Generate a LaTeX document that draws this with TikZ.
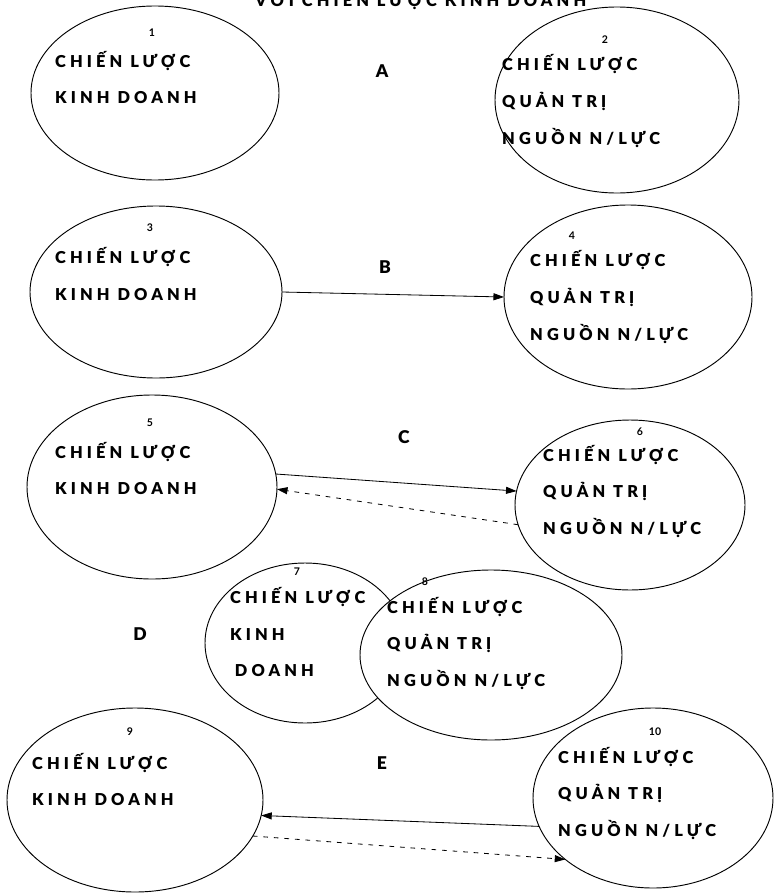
\documentclass[tikz,border=0pt]{standalone}
\usepackage{fontspec}
\setmainfont{Lato}
\newfontfamily\ovalfont[LetterSpace=25]{Lato Black}
\newfontfamily\heavyfont{Lato Black}
\usetikzlibrary{shapes.geometric,arrows.meta}

\begin{document}
\begin{tikzpicture}[x=0.03cm, y=-0.03cm,
        oval/.style 2 args={ellipse, draw, fill=white, line width=0.8pt, inner sep=0pt, outer sep=0pt,
            minimum width=#1*0.03cm, minimum height=#2*0.03cm},
        words/.style={anchor=west, align=left, inner sep=0pt, font=\ovalfont\fontsize{14}{31.2}\selectfont},
        num/.style={inner sep=0pt, font=\bfseries\fontsize{9}{9}\selectfont},
        letter/.style={inner sep=0pt, font=\heavyfont\fontsize{15}{15}\selectfont},
        link/.style={line width=0.7pt, -{Triangle[length=9pt,width=6pt]}},
        back/.style={link, dash pattern=on 4pt off 5pt}]
        \useasboundingbox (0,0) rectangle (774,893);

        \node [words, anchor=base west] (title) at (255,6) {VỚI CHIẾN LƯỢC KINH DOANH};

        % A
        \node [oval={248}{174}] (e1) at (155,93) {};
        \node [oval={244}{186}] (e2) at (617,100) {};
        \node [num] (n1) at (152,33) {1};
        \node [num] (n2) at (605,40) {2};
        \node [words] (t1) at (55,77.5) {CHIẾN LƯỢC\\KINH DOANH};
        \node [words] (t2) at (502,101) {CHIẾN LƯỢC\\QUẢN TRỊ\\NGUỒN N/LỰC};
        \node [letter] (la) at (382,71) {A};

        % B
        \node [oval={252}{172}] (e3) at (156,292) {};
        \node [oval={248}{184}] (e4) at (628,297) {};
        \node [num] (n3) at (150,228) {3};
        \node [num] (n4) at (572,236) {4};
        \node [words] (t3) at (55,274) {CHIẾN LƯỢC\\KINH DOANH};
        \node [words] (t4) at (530,297) {CHIẾN LƯỢC\\QUẢN TRỊ\\NGUỒN N/LỰC};
        \node [letter] (lb) at (385,267) {B};
        \draw [link] (e3.east) -- (e4.west);

        % C
        \node [oval={250}{184}] (e5) at (152,487) {};
        \node [oval={230}{170}] (e6) at (630,505) {};
        \node [num] (n5) at (150,423) {5};
        \node [num] (n6) at (640,432) {6};
        \node [words] (t5) at (55,468.5) {CHIẾN LƯỢC\\KINH DOANH};
        \node [words] (t6) at (543,491.5) {CHIẾN LƯỢC\\QUẢN TRỊ\\NGUỒN N/LỰC};
        \node [letter] (lc) at (404,437) {C};
        \draw [link] (e5.6) -- (e6.173);
        \draw [back] (e6.190) -- (e5.-1);

        % D
        \node [oval={200}{160}] (e7) at (305,643) {};
        \node [oval={262}{170}] (e8) at (491,655) {};
        \node [num] (n7) at (297,572) {7};
        \node [num] (n8) at (425,582) {8};
        \node [words] (t7) at (230,632) {CHIẾN LƯỢC\\KINH\\\hspace{4pt}DOANH};
        \node [words] (t8) at (387,643.5) {CHIẾN LƯỢC\\QUẢN TRỊ\\NGUỒN N/LỰC};
        \node [letter] (ld) at (140,634) {D};

        % E
        \node [oval={256}{184}] (e9) at (135,800) {};
        \node [oval={240}{180}] (e10) at (653,798) {};
        \node [num] (n9) at (130,732) {9};
        \node [num] (n10) at (655,732) {10};
        \node [words] (t9) at (32,779.5) {CHIẾN LƯỢC\\KINH DOANH};
        \node [words] (t10) at (558,793.5) {CHIẾN LƯỢC\\QUẢN TRỊ\\NGUỒN N/LỰC};
        \node [letter] (le) at (382,763) {E};
        \draw [link] (e10.194) -- (e9.-7);
        \draw [back] (e9.-17) -- (e10.215);
\end{tikzpicture}
\end{document}
